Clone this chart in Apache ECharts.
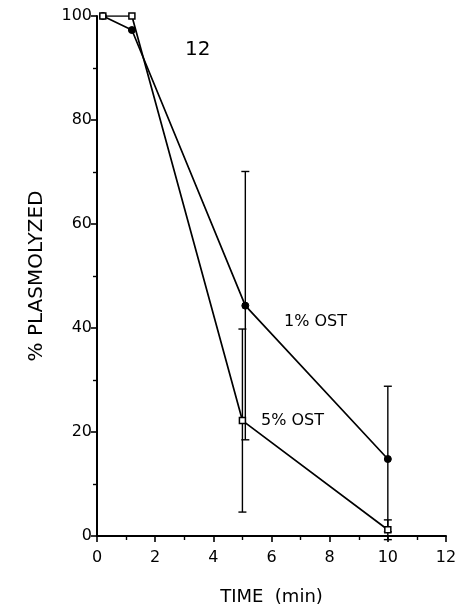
<!DOCTYPE html>
<html><head><meta charset="utf-8">
<script src="https://cdn.jsdelivr.net/npm/echarts@6/dist/echarts.min.js"></script>
<style>html,body{margin:0;padding:0;background:#fff}#c{width:460px;height:611px}</style>
</head><body><div id="c"></div>
<script>
// 1% OST (filled circles)
const x1 = [0.2, 1.2, 5.1, 10.0];
const y1 = [100, 97.3, 44.3, 14.8];
const e1 = [0, 0, 25.8, 14.0];
// 5% OST (open squares)
const x5 = [0.2, 1.2, 5.0, 10.0];
const y5 = [100, 100, 22.2, 1.2];
const e5 = [0, 0, 17.6, 1.9];
const xTicks = [0, 2, 4, 6, 8, 10, 12];
const yTicks = [0, 20, 40, 60, 80, 100];

const font = 'DejaVu Sans';
const chart = echarts.init(document.getElementById('c'), null, {renderer: 'canvas'});

function errItem(params, api) {
  const x = api.value(0), y = api.value(1), e = api.value(2);
  if (!e) return null;
  const top = api.coord([x, y + e]);
  const bot = api.coord([x, y - e]);
  const w = 4;
  const st = {stroke: '#000', lineWidth: 1.4};
  return {type: 'group', children: [
    {type: 'line', shape: {x1: top[0], y1: top[1], x2: bot[0], y2: bot[1]}, style: st},
    {type: 'line', shape: {x1: top[0] - w, y1: top[1], x2: top[0] + w, y2: top[1]}, style: st},
    {type: 'line', shape: {x1: bot[0] - w, y1: bot[1], x2: bot[0] + w, y2: bot[1]}, style: st}
  ]};
}

chart.setOption({
  animation: false,
  backgroundColor: '#fff',
  grid: {left: 97, right: 14, top: 16, bottom: 74, containLabel: false},
  xAxis: {
    type: 'value', min: 0, max: 12, interval: 2,
    name: 'TIME  (min)', nameLocation: 'middle', nameGap: 52,
    nameTextStyle: {fontFamily: font, fontSize: 18, color: '#000'},
    axisLine: {show: true, lineStyle: {color: '#000', width: 2}},
    axisTick: {show: true, length: 6, lineStyle: {color: '#000', width: 1.6}},
    minorTick: {show: true, splitNumber: 2, length: 4, lineStyle: {color: '#000', width: 1.4}},
    axisLabel: {fontFamily: font, fontSize: 16, color: '#000', margin: 14,
      formatter: v => xTicks.includes(v) ? String(v) : ''},
    splitLine: {show: false}
  },
  yAxis: {
    type: 'value', min: 0, max: 100, interval: 20,
    name: '% PLASMOLYZED', nameLocation: 'middle', nameGap: 50, nameRotate: 90,
    nameTextStyle: {fontFamily: font, fontSize: 20, color: '#000'},
    axisLine: {show: true, lineStyle: {color: '#000', width: 2}},
    axisTick: {show: true, length: 6, lineStyle: {color: '#000', width: 1.6}},
    minorTick: {show: true, splitNumber: 2, length: 4, lineStyle: {color: '#000', width: 1.4}},
    axisLabel: {fontFamily: font, fontSize: 16, color: '#000', margin: 5,
      formatter: v => yTicks.includes(v) ? String(v) : ''},
    splitLine: {show: false}
  },
  series: [
    {type: 'custom', renderItem: errItem, data: x5.map((x, i) => [x, y5[i], e5[i]]), z: 2},
    {type: 'custom', renderItem: errItem, data: x1.map((x, i) => [x, y1[i], e1[i]]), z: 2},
    {type: 'line', name: '1% OST', data: x1.map((x, i) => [x, y1[i]]),
      lineStyle: {color: '#000', width: 1.7}, symbol: 'circle', symbolSize: 7,
      itemStyle: {color: '#000', borderColor: '#000'}, z: 3},
    {type: 'line', name: '5% OST', data: x5.map((x, i) => [x, y5[i]]),
      lineStyle: {color: '#000', width: 1.7}, symbol: 'rect', symbolSize: 6,
      itemStyle: {color: '#fff', borderColor: '#000', borderWidth: 1.5}, z: 4}
  ],
  graphic: [
    {type: 'text', left: 185, top: 40, style: {text: '12', font: '20px ' + font, fill: '#000'}},
    {type: 'text', left: 284, top: 314, style: {text: '1% OST', font: '16px ' + font, fill: '#000'}},
    {type: 'text', left: 261, top: 413, style: {text: '5% OST', font: '16px ' + font, fill: '#000'}}
  ]
});
</script></body></html>
